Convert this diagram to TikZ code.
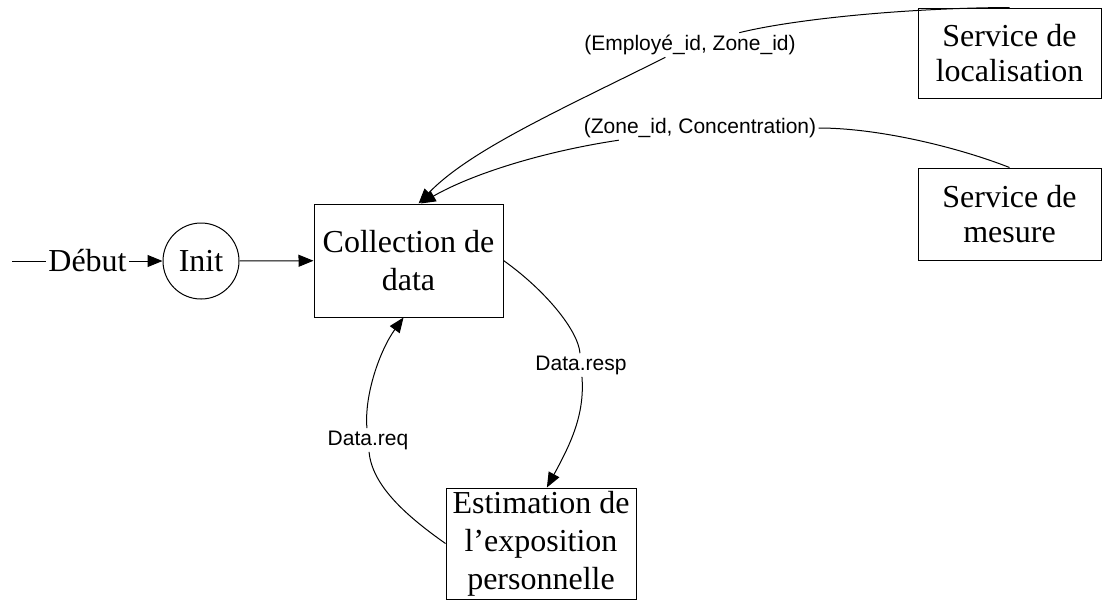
\documentclass[tikz,border=0pt]{standalone}
\usepackage{fontspec}
\setmainfont{Liberation Serif}
\newfontfamily\msgfont{Liberation Sans}
\usetikzlibrary{arrows.meta}
\tikzset{
    state-box/.style = {draw, rectangle, line width=0.5pt, align=center, inner sep=0pt, font=\fontsize{16}{19}\selectfont},
    service-box/.style = {state-box, font=\fontsize{16}{17.5}\selectfont},
    state-circle/.style = {draw, circle, line width=0.5pt, minimum size=38pt, inner sep=0pt, font=\fontsize{16}{19}\selectfont},
    msg-label/.style = {fill=white, inner sep=1pt, font=\msgfont\fontsize{10.5}{12}\selectfont},
    msg-line/.style = {line width=0.5pt},
    msg-arrow/.style = {line width=0.5pt, -{Triangle[length=7.5pt, width=6pt]}},
}

\begin{document}
\begin{tikzpicture}[x=0.5pt, y=-0.5pt]
\useasboundingbox (0,0) rectangle (1106,601);

% states
\coordinate (start) at (12,261);
\node[inner sep=1pt, font=\fontsize{16}{19}\selectfont] (debut) at (87.5,261) {Début};
\node[state-circle] (init) at (201,261) {Init};
\node[state-box, minimum width=94.5pt, minimum height=56.5pt] (coll) at (408.5,260.5) {Collection de\\data};
\node[state-box, minimum width=95pt, minimum height=55.5pt] (est) at (541,543.5) {Estimation de\\l’exposition\\personnelle};
\node[service-box, minimum width=91.5pt, minimum height=45pt] (loc) at (1009.5,53) {Service de\\localisation};
\node[service-box, minimum width=91.5pt, minimum height=46pt] (mes) at (1009.5,214) {Service de\\mesure};

% messages
\node[msg-label] (emp) at (690,45) {(Employé\_id, Zone\_id)};
\node[msg-label] (zone) at (700,128) {(Zone\_id, Concentration)};
\node[msg-label] (resp) at (581,365) {Data.resp};
\node[msg-label] (req) at (368,440) {Data.req};

\draw[msg-line] (start) -- (debut);
\draw[msg-arrow] (debut) -- (init);
\draw[msg-arrow] (init) -- (coll);

\draw[msg-line] (loc.north) .. controls (900,8) and (790,20) .. (emp);
\draw[msg-arrow] (emp) .. controls (560,110) and (470,150) .. (coll.80);
\draw[msg-line] (mes.north) .. controls (960,148) and (880,128) .. (zone);
\draw[msg-arrow] (zone) .. controls (540,152) and (470,175) .. (coll.78);

\draw[msg-line] (coll.east) .. controls (545,290) and (578,330) .. (resp);
\draw[msg-arrow] (resp) .. controls (585,415) and (570,445) .. (est.84);
\draw[msg-line] (est.west) .. controls (405,515) and (372,485) .. (req);
\draw[msg-arrow] (req) .. controls (364,395) and (380,350) .. (coll.265);
\end{tikzpicture}
\end{document}
